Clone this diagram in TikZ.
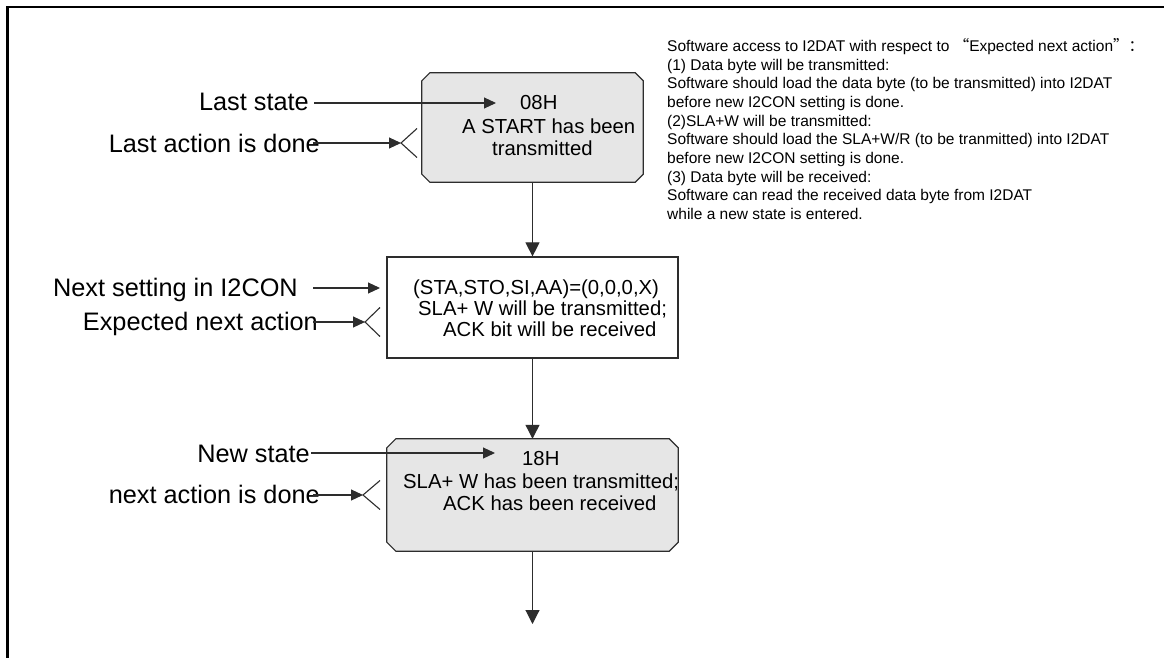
\documentclass[tikz,border=0pt]{standalone}
\usepackage{fontspec}
\setmainfont{Liberation Sans}
\newfontfamily\cjk{Noto Sans CJK SC}
\usetikzlibrary{arrows.meta}
\definecolor{boxgray}{RGB}{230,230,230}
\definecolor{linegray}{RGB}{45,45,45}
\newcommand\chamferbox[2]{%
  \filldraw[boxline, fill=boxgray]
    ([xshift=#2]#1.north west) -- ([xshift=-#2]#1.north east) --
    ([yshift=-#2]#1.north east) -- ([yshift=#2]#1.south east) --
    ([xshift=-#2]#1.south east) -- ([xshift=#2]#1.south west) --
    ([yshift=#2]#1.south west) -- ([yshift=-#2]#1.north west) -- cycle;}
\begin{document}
\begin{tikzpicture}[x=1pt,y=-1pt,
  lbl/.style={font=\fontsize{25.3}{30}\selectfont, inner sep=0pt, anchor=base east},
  btxt/.style={font=\fontsize{20.3}{24}\selectfont, inner sep=0pt, anchor=base west},
  note/.style={font=\fontsize{15.5}{18.7}\selectfont, inner sep=0pt, anchor=north west, align=left},
  conn/.style={draw=linegray, line width=1.1pt},
  arr/.style={conn, -{Triangle[length=12pt,width=11pt]}},
  varr/.style={conn, -{Triangle[length=14pt,width=14pt]}},
  boxline/.style={draw=linegray, line width=1.2pt},
  frameline/.style={line width=2.2pt, draw=black},
  shape box/.style={minimum width=#1, inner sep=0pt, draw=none}
]
\useasboundingbox (0,0) rectangle (1164,658);
\fill[white] (0,0) rectangle (1164,658);

% frame
\draw[frameline] (7.5,658) -- (7.5,7) -- (1164,7);

% boxes
\node[shape box=221pt, minimum height=109pt] (box1) at (532.5,127.5) {};
\chamferbox{box1}{8pt}
\node[shape box=291pt, minimum height=101pt, draw=linegray, line width=1.2pt, fill=white] (box2) at (532.5,307.5) {};
\node[shape box=291pt, minimum height=112pt] (box3) at (532.5,495) {};
\chamferbox{box3}{9pt}

% box texts
\node[btxt] (b1a) at (520,110) {08H};
\node[btxt] (b1b) at (462,133) {A START has been};
\node[btxt] (b1c) at (492,156) {transmitted};

\node[btxt] (b2a) at (413,294) {(STA,STO,SI,AA)=(0,0,0,X)};
\node[btxt] (b2b) at (418,315) {SLA+ W will be transmitted;};
\node[btxt] (b2c) at (443,336) {ACK bit will be received};

\node[btxt] (b3a) at (522,465) {18H};
\node[btxt] (b3b) at (403,488) {SLA+ W has been transmitted;};
\node[btxt] (b3c) at (443,510) {ACK has been received};

% left labels
\node[lbl] (ls) at (309,111) {Last state};
\node[lbl] (lad) at (320,152) {Last action is done};
\node[lbl] (nsi) at (298,296) {Next setting in I2CON};
\node[lbl] (ena) at (318,330) {Expected next action};
\node[lbl] (ns) at (310,462) {New state};
\node[lbl] (nad) at (320,503) {next action is done};

% arrow targets
\coordinate (t1) at (496,103);
\coordinate (t2) at (401,143);
\coordinate (t3) at (380,288);
\coordinate (t4) at (365,322);
\coordinate (t5) at (495,453);
\coordinate (t6) at (363,495);
\coordinate (endpt) at (532.5,624);

\draw[arr] ([xshift=5pt]ls.east |- t1) -- (t1);
\draw[arr] ([xshift=-7pt]lad.east |- t2) -- (t2);
\draw[conn] ([xshift=16pt,yshift=14.5pt]t2) -- (t2) -- ([xshift=16pt,yshift=-14.5pt]t2);
\draw[arr] ([xshift=15pt]nsi.east |- t3) -- (t3);
\draw[arr] ([xshift=-5pt]ena.east |- t4) -- (t4);
\draw[conn] ([xshift=15pt,yshift=14.5pt]t4) -- (t4) -- ([xshift=15pt,yshift=-14.5pt]t4);
\draw[arr] ([xshift=1pt]ns.east |- t5) -- (t5);
\draw[arr] ([xshift=-7pt]nad.east |- t6) -- (t6);
\draw[conn] ([xshift=17pt,yshift=14.5pt]t6) -- (t6) -- ([xshift=17pt,yshift=-14.5pt]t6);

% vertical connectors
\draw[varr] (box1.south) -- (box2.north);
\draw[varr] (box2.south) -- (box3.north);
\draw[varr] (box3.south) -- (endpt);

% note
\node[note] (note) at (667,38) {Software access to I2DAT with respect to {\cjk “}Expected next action{\cjk ”：}\\
(1) Data byte will be transmitted:\\
Software should load the data byte (to be transmitted) into I2DAT\\
before new I2CON setting is done.\\
(2)SLA+W will be transmitted:\\
Software should load the SLA+W/R (to be tranmitted) into I2DAT\\
before new I2CON setting is done.\\
(3) Data byte will be received:\\
Software can read the received data byte from I2DAT\\
while a new state is entered.};
\end{tikzpicture}
\end{document}
